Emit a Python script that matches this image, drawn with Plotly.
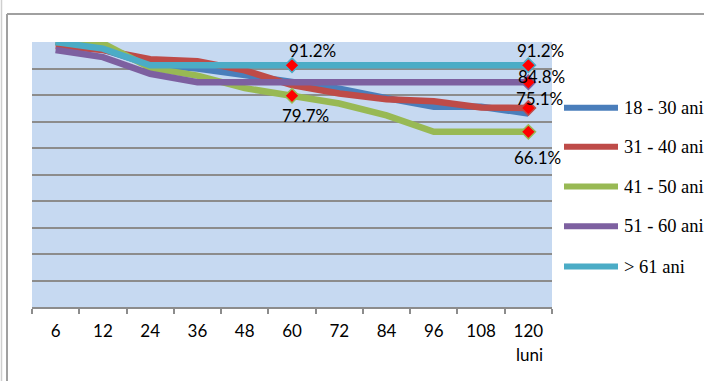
import plotly.graph_objects as go

# Months since start (category axis)
months = ["6", "12", "24", "36", "48", "60", "72", "84", "96", "108", "120"]

# Survival share (%) per age group
series_names = ["18 - 30 ani", "31 - 40 ani", "41 - 50 ani", "51 - 60 ani", "> 61 ani"]
age_18_30 = [100.0, 97.2, 91.5, 90.0, 87.5, 84.7, 82.4, 78.8, 75.6, 75.6, 73.0]
age_31_40 = [98.5, 97.0, 93.5, 92.7, 89.3, 83.7, 80.6, 78.4, 77.6, 75.3, 75.1]
age_41_50 = [100.0, 99.5, 90.2, 87.3, 82.6, 79.7, 76.8, 72.3, 66.1, 66.1, 66.1]
age_51_60 = [97.0, 94.3, 88.0, 84.8, 84.8, 84.8, 84.8, 84.8, 84.8, 84.8, 84.8]
age_61_up = [100.0, 97.5, 91.2, 91.2, 91.2, 91.2, 91.2, 91.2, 91.2, 91.2, 91.2]
series_values = [age_18_30, age_31_40, age_41_50, age_51_60, age_61_up]
colors = ["#4A7EBB", "#BE4B48", "#98B954", "#7D60A0", "#4BACC6"]

# Highlighted points: (series index, month, label offset x, label offset y)
highlights = [
    (4, "60", 20, 15),
    (2, "60", 13, -20),
    (4, "120", 12, 15),
    (3, "120", 13, 6),
    (1, "120", 11, 9),
    (2, "120", 9, -26),
]

W, H = 704, 381
ML, MR, MT, MB = 32, 152, 42, 74
PW, PH = W - ML - MR, H - MT - MB


def px_x(px):
    return (px - ML) / PW


def px_y(py):
    return (H - MB - py) / PH


fig = go.Figure()

for name, vals, col in zip(series_names, series_values, colors):
    fig.add_trace(go.Scatter(
        x=months, y=vals, mode="lines", name=name,
        line=dict(color=col, width=6.5), showlegend=False, hoverinfo="skip",
    ))

label_font = dict(family="Lato", size=17, color="#000000")
for si, m, dx, dy in highlights:
    i = months.index(m)
    v = series_values[si][i]
    fig.add_trace(go.Scatter(
        x=[m], y=[v], mode="markers", showlegend=False, hoverinfo="skip",
        marker=dict(symbol="diamond", size=11, color="#FF0000",
                    line=dict(color=colors[si], width=1.5)),
        cliponaxis=False,
    ))
    # on a category axis a numeric x is the category position
    fig.add_annotation(
        x=i, y=v, xref="x", yref="y", text=f"{v}%", showarrow=False,
        xshift=dx, yshift=dy, font=label_font,
    )

# Legend drawn beside the plot
legend_y = [107.7, 146.7, 186.5, 226.3, 266.5]
for name, col, ly in zip(series_names, colors, legend_y):
    fig.add_shape(type="line", xref="paper", yref="paper",
                  x0=px_x(564), x1=px_x(618), y0=px_y(ly), y1=px_y(ly),
                  line=dict(color=col, width=6))
    fig.add_annotation(x=px_x(622), y=px_y(ly), xref="paper", yref="paper",
                       text=name, showarrow=False, xanchor="left", yanchor="middle",
                       font=dict(family="Liberation Serif", size=18.5, color="#000000"))

# Axis unit label
fig.add_annotation(x=px_x(529), y=px_y(354), xref="paper", yref="paper",
                   text="luni", showarrow=False, xanchor="center", yanchor="middle",
                   font=label_font)

# Chart frame
fig.add_shape(type="line", xref="paper", yref="paper",
              x0=px_x(7), x1=px_x(720), y0=px_y(14), y1=px_y(14),
              line=dict(color="#A0A0A0", width=2))
fig.add_shape(type="line", xref="paper", yref="paper",
              x0=px_x(7), x1=px_x(7), y0=px_y(14), y1=px_y(400),
              line=dict(color="#A0A0A0", width=2))
fig.add_shape(type="line", xref="paper", yref="paper",
              x0=px_x(1.5), x1=px_x(1.5), y0=px_y(0), y1=px_y(400),
              line=dict(color="#CFCFCF", width=1.5))

fig.update_layout(
    width=W, height=H, autosize=False,
    margin=dict(l=ML, r=MR, t=MT, b=MB),
    paper_bgcolor="#FFFFFF", plot_bgcolor="#C6D9F1",
    showlegend=False,
    xaxis=dict(type="category", categoryorder="array", categoryarray=months,
               range=[-0.5, len(months) - 0.5],
               tickson="boundaries", ticks="outside", ticklen=5, tickwidth=1.5,
               tickcolor="#8C8C8C", showgrid=False, showline=True,
               linecolor="#8C8C8C", linewidth=2, zeroline=False,
               tickfont=dict(family="Lato", size=17, color="#000000"),
               tickangle=0, ticklabelstandoff=8, fixedrange=True),
    yaxis=dict(range=[0, 100], dtick=10, showticklabels=False, showgrid=True,
               gridcolor="#8C8C8C", gridwidth=2, zeroline=False, ticks="",
               showline=False, fixedrange=True),
)

fig.write_html("out.html")
